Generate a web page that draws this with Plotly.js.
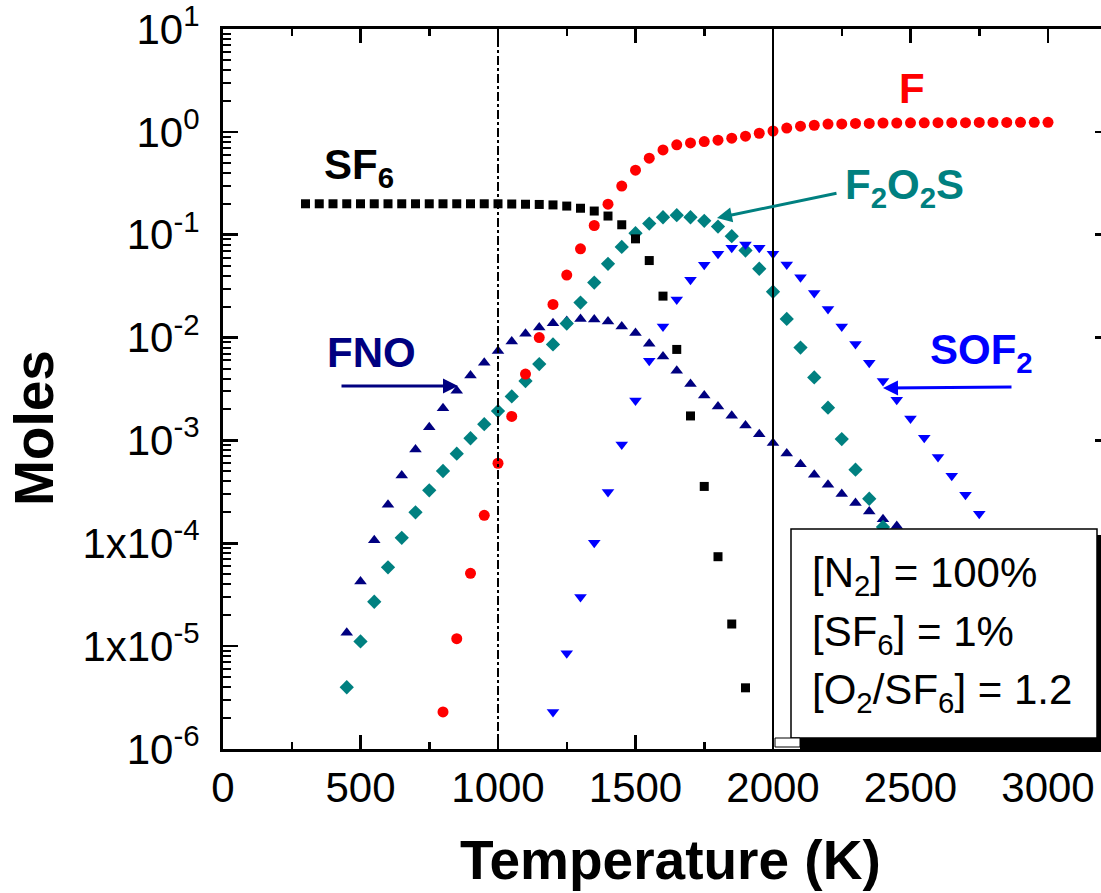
<!DOCTYPE html>
<html>
<head>
<meta charset="utf-8">
<script src="https://cdn.plot.ly/plotly-3.0.1.min.js"></script>
<style>
html,body{margin:0;padding:0;overflow:hidden;background:#fff;}
#chart{width:1110px;height:893px;}
</style>
</head>
<body>
<div id="chart"></div>
<script>
// ---- data ----
const sf6T = [300,350,400,450,500,550,600,650,700,750,800,850,900,950,1000,1050,1100,1150,1200,1250,1300,1350,1400,1450,1500,1550,1600,1650,1700,1750,1800,1850,1900];
const sf6Y = [0.2,0.2,0.2,0.2,0.2,0.2,0.2,0.2,0.2,0.2,0.2,0.2,0.2,0.2,0.2,0.199,0.198,0.197,0.195,0.19,0.181,0.170,0.152,0.125,0.0912,0.0561,0.0253,0.00767,0.00173,3.57e-4,7.4e-5,1.64e-5,3.93e-6];

const fT = [800,850,900,950,1000,1050,1100,1150,1200,1250,1300,1350,1400,1450,1500,1550,1600,1650,1700,1750,1800,1850,1900,1950,2000,2050,2100,2150,2200,2250,2300,2350,2400,2450,2500,2550,2600,2650,2700,2750,2800,2850,2900,2950,3000];
const fY = [2.29e-6,1.18e-5,5.1e-5,1.87e-4,6.0e-4,1.71e-3,4.42e-3,0.0100,0.021,0.0405,0.073,0.123,0.198,0.297,0.424,0.555,0.668,0.748,0.782,0.805,0.83,0.869,0.908,0.97,1.02,1.09,1.136,1.16,1.19,1.196,1.21,1.21,1.22,1.22,1.225,1.225,1.23,1.23,1.23,1.235,1.235,1.235,1.24,1.24,1.24];

const fnoT = [450,500,550,600,650,700,750,800,850,900,950,1000,1050,1100,1150,1200,1250,1300,1350,1400,1450,1500,1550,1600,1650,1700,1750,1800,1850,1900,1950,2000,2050,2100,2150,2200,2250,2300,2350,2400,2450];
const fnoY = [1.35e-5,4.24e-5,1.07e-4,2.37e-4,4.57e-4,8.18e-4,1.34e-3,2.06e-3,3.04e-3,4.28e-3,5.69e-3,7.39e-3,9.17e-3,0.0109,0.0125,0.0138,0.0145,0.0152,0.0150,0.0143,0.0128,0.0111,8.7e-3,6.55e-3,4.76e-3,3.53e-3,2.74e-3,2.14e-3,1.74e-3,1.40e-3,1.15e-3,9.44e-4,7.48e-4,5.85e-4,4.64e-4,3.71e-4,3.01e-4,2.46e-4,2.04e-4,1.71e-4,1.47e-4];

const f2o2sT = [450,500,550,600,650,700,750,800,850,900,950,1000,1050,1100,1150,1200,1250,1300,1350,1400,1450,1500,1550,1600,1650,1700,1750,1800,1850,1900,1950,2000,2050,2100,2150,2200,2250,2300,2350,2400];
const f2o2sY = [3.98e-6,1.11e-5,2.70e-5,5.83e-5,1.13e-4,2.0e-4,3.27e-4,5.04e-4,7.43e-4,1.05e-3,1.44e-3,1.93e-3,2.68e-3,3.78e-3,5.52e-3,8.57e-3,0.0137,0.0219,0.0343,0.0521,0.0762,0.1035,0.1285,0.148,0.155,0.148,0.1365,0.12,0.0968,0.0703,0.0467,0.0279,0.0152,8.0e-3,4.1e-3,2.08e-3,1.03e-3,5.19e-4,2.71e-4,1.44e-4];

const sof2T = [1200,1250,1300,1350,1400,1450,1500,1550,1600,1650,1700,1750,1800,1850,1900,1950,2000,2050,2100,2150,2200,2250,2300,2350,2400,2450,2500,2550,2600,2650,2700,2750];
const sof2Y = [2.29e-6,8.5e-6,3.0e-5,1.01e-4,3.15e-4,9.14e-4,2.45e-3,5.95e-3,0.0128,0.0235,0.0364,0.051,0.0652,0.0746,0.0804,0.0746,0.0652,0.0513,0.0387,0.0272,0.019,0.0128,8.65e-3,5.69e-3,3.78e-3,2.49e-3,1.63e-3,1.06e-3,6.9e-4,4.54e-4,2.97e-4,1.94e-4];

const xTickVals = [0,500,1000,1500,2000,2500,3000];
const xTickText = ['0','500','1000','1500','2000','2500','3000'];
const yTickVals = [10,1,0.1,0.01,0.001,1e-4,1e-5,1e-6];
const yTickText = ['10<sup>1</sup>','10<sup>0</sup>','10<sup>-1</sup>','10<sup>-2</sup>','10<sup>-3</sup>','1x10<sup>-4</sup>','1x10<sup>-5</sup>','10<sup>-6</sup>'];
const refLines = [1000, 2000];
const boxLines = ['[N<sub>2</sub>] = 100%','[SF<sub>6</sub>] = 1%','[O<sub>2</sub>/SF<sub>6</sub>] = 1.2'];

// ---- layout geometry ----
const W = 1110, H = 893, L = 223, R = 0, T = 29, B = 144;
const px = p => (p - L) / (W - L - R);
const py = p => (H - B - p) / (H - T - B);
const FONT = 'Liberation Sans, Arial, Helvetica, sans-serif';

const minorY = [];
for (let e = -6; e < 1; e++) for (let m = 2; m <= 9; m++) minorY.push(m * Math.pow(10, e));

function mk(x, y, sym, color, size) {
  return {x: x, y: y, type: 'scatter', mode: 'markers', cliponaxis: false,
    marker: {symbol: sym, color: color, size: size, line: {width: 0}}, showlegend: false, hoverinfo: 'skip'};
}
const traces = [
  mk(fnoT, fnoY, 'triangle-up', '#000080', 11),
  mk(f2o2sT, f2o2sY, 'diamond', '#008080', 11),
  mk(sof2T, sof2Y, 'triangle-down', '#0000ff', 11),
  mk(fT, fY, 'circle', '#ff0000', 11),
  mk(sf6T, sf6Y, 'square', '#000000', 9)
];

const shapes = [
  {type: 'line', xref: 'x', yref: 'paper', x0: refLines[0], x1: refLines[0], y0: 0, y1: 1, line: {color: '#000', width: 2, dash: 'dashdot'}},
  {type: 'line', xref: 'x', yref: 'paper', x0: refLines[1], x1: refLines[1], y0: 0, y1: 1, line: {color: '#000', width: 2}},
  // shadow
  {type: 'rect', xref: 'paper', yref: 'paper', x0: px(800), x1: px(1109), y0: py(751), y1: py(535), fillcolor: '#000', line: {width: 0}},
  // box
  {type: 'rect', xref: 'paper', yref: 'paper', x0: px(791), x1: px(1097), y0: py(738), y1: py(529), fillcolor: '#fff', line: {color: '#000', width: 1.5}},
  {type: 'rect', xref: 'paper', yref: 'paper', x0: px(775), x1: px(800), y0: py(747), y1: py(738), fillcolor: '#fff', line: {color: '#000', width: 1}}
];

const ann = [];
function lab(text, x, y, color, size, xanchor) {
  ann.push({text: '<b>' + text + '</b>', xref: 'paper', yref: 'paper', x: px(x), y: py(y), xanchor: xanchor || 'left', yanchor: 'middle',
    showarrow: false, font: {family: FONT, size: size, color: color}});
}
function arrow(hx, hy, tx, ty, color) {
  ann.push({text: '', xref: 'paper', yref: 'paper', x: px(hx), y: py(hy), ax: tx - hx, ay: ty - hy, showarrow: true,
    arrowhead: 2, arrowsize: 1, arrowwidth: 3, arrowcolor: color, standoff: 0, startstandoff: 0});
}
lab('SF<sub>6</sub>', 322, 167, '#000', 42);
lab('F', 912, 88, '#ff0000', 42, 'center');
lab('F<sub>2</sub>O<sub>2</sub>S', 843, 187, '#008080', 42);
lab('FNO', 325, 352, '#000080', 42);
lab('SOF<sub>2</sub>', 928, 353, '#0000ff', 42);
arrow(458, 386, 340, 386, '#000080');
arrow(717, 218, 838, 193, '#008080');
arrow(883, 388, 1013, 387, '#0000ff');
const boxY = [575, 634, 692];
boxLines.forEach((t, i) => ann.push({text: t, xref: 'paper', yref: 'paper', x: px(810), y: py(boxY[i]), xanchor: 'left', yanchor: 'middle',
  showarrow: false, font: {family: FONT, size: 42, color: '#000'}}));
// axis titles
ann.push({text: '<b>Moles</b>', xref: 'paper', yref: 'paper', x: px(34), y: py(428), xanchor: 'center', yanchor: 'middle', textangle: -90,
  showarrow: false, font: {family: FONT, size: 55, color: '#000'}});
ann.push({text: '<b>Temperature (K)</b>', xref: 'paper', yref: 'paper', x: px(670), y: py(860), xanchor: 'center', yanchor: 'middle',
  showarrow: false, font: {family: FONT, size: 55, color: '#000'}});

const layout = {
  width: W, height: H,
  margin: {l: L, r: R, t: T, b: B, pad: 0},
  paper_bgcolor: '#fff', plot_bgcolor: '#fff',
  font: {family: FONT, color: '#000'},
  showlegend: false,
  xaxis: {
    range: [0, (W - L - R) / 0.275], showgrid: false, zeroline: false,
    showline: true, linecolor: '#000', linewidth: 3, mirror: 'allticks',
    ticks: 'inside', ticklen: 14, tickwidth: 2.5, tickcolor: '#000',
    tickmode: 'array', tickvals: xTickVals, ticktext: xTickText,
    tickfont: {family: FONT, size: 42, color: '#000'}, ticklabelstandoff: 0,
    minor: {ticks: 'inside', ticklen: 7, tickwidth: 2.5, tickcolor: '#000', dtick: 250, tick0: 0, showgrid: false}
  },
  yaxis: {
    type: 'log', range: [-6.0005, 1.0005], showgrid: false, zeroline: false,
    showline: true, linecolor: '#000', linewidth: 3, mirror: 'allticks',
    ticks: 'inside', ticklen: 15, tickwidth: 2.5, tickcolor: '#000',
    tickmode: 'array', tickvals: yTickVals, ticktext: yTickText, ticklabeloverflow: 'allow',
    tickfont: {family: FONT, size: 42, color: '#000'}, ticklabelstandoff: 12,
    minor: {ticks: 'inside', ticklen: 8, tickwidth: 2, tickcolor: '#000', tickmode: 'array', tickvals: minorY, showgrid: false}
  },
  shapes: shapes,
  annotations: ann
};

Plotly.newPlot('chart', traces, layout, {staticPlot: true, displayModeBar: false});
</script>
</body>
</html>
